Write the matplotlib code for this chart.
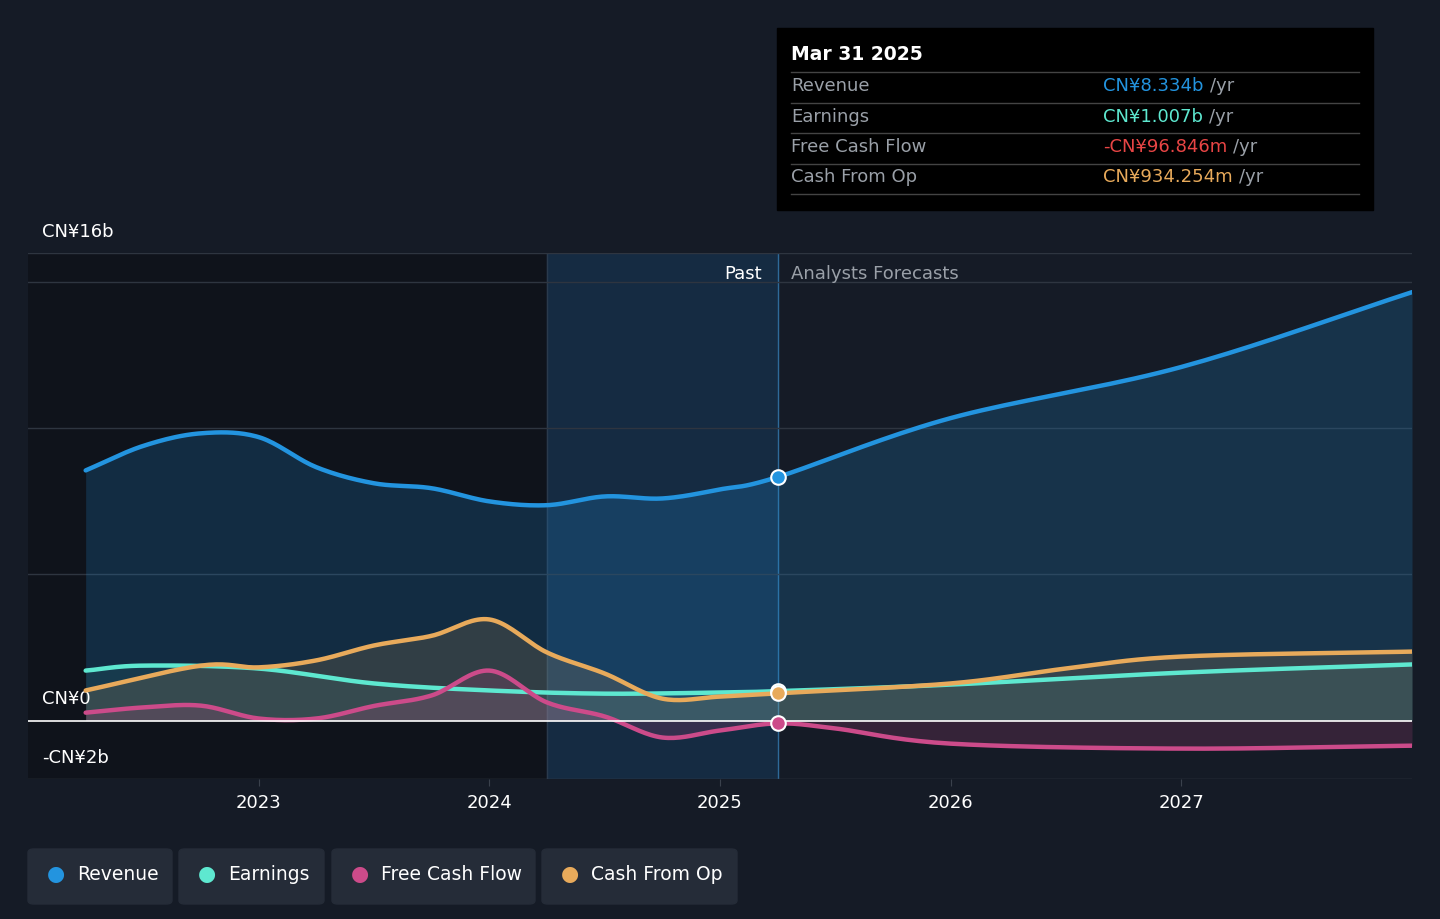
import numpy as np
import matplotlib.pyplot as plt
from matplotlib.patches import FancyBboxPatch, Rectangle

# values in CN¥ billions
rev_x = [2022.25, 2022.5, 2022.75, 2023.0, 2023.25, 2023.5, 2023.75, 2024.0, 2024.25, 2024.5, 2024.75, 2025.0, 2025.25, 2026.0, 2027.0, 2028.0]
rev_y = [8.56, 9.4, 9.83, 9.7, 8.67, 8.12, 7.95, 7.5, 7.37, 7.67, 7.6, 7.91, 8.334, 10.35, 12.1, 14.66]
earn_x = [2022.25, 2022.5, 2023.0, 2023.5, 2024.0, 2024.5, 2025.0, 2025.25, 2026.0, 2027.0, 2028.0]
earn_y = [1.71, 1.88, 1.78, 1.27, 1.03, 0.92, 0.96, 1.007, 1.23, 1.64, 1.92]
fcf_x = [2022.25, 2022.5, 2022.75, 2023.0, 2023.25, 2023.5, 2023.75, 2024.0, 2024.25, 2024.5, 2024.75, 2025.0, 2025.25, 2025.5, 2026.0, 2027.0, 2028.0]
fcf_y = [0.27, 0.45, 0.51, 0.07, 0.07, 0.5, 0.86, 1.71, 0.62, 0.14, -0.58, -0.34, -0.097, -0.27, -0.79, -0.96, -0.86]
cfo_x = [2022.25, 2022.75, 2023.0, 2023.25, 2023.5, 2023.75, 2024.0, 2024.25, 2024.5, 2024.75, 2025.0, 2025.25, 2026.0, 2026.5, 2027.0, 2028.0]
cfo_y = [1.03, 1.88, 1.82, 2.06, 2.57, 2.9, 3.46, 2.33, 1.61, 0.75, 0.82, 0.934, 1.27, 1.78, 2.19, 2.36]
now = 2025.25


def smooth(x, y, n=20):
    # Catmull-Rom spline through the read points
    x = np.asarray(x, float); y = np.asarray(y, float)
    px = np.concatenate([[2 * x[0] - x[1]], x, [2 * x[-1] - x[-2]]])
    py = np.concatenate([[2 * y[0] - y[1]], y, [2 * y[-1] - y[-2]]])
    xs, ys = [], []
    t = np.linspace(0, 1, n, endpoint=False)
    for i in range(1, len(px) - 2):
        for p, out in ((px, xs), (py, ys)):
            p0, p1, p2, p3 = p[i - 1:i + 3]
            out.extend(0.5 * (2 * p1 + (-p0 + p2) * t + (2 * p0 - 5 * p1 + 4 * p2 - p3) * t ** 2
                              + (-p0 + 3 * p1 - 3 * p2 + p3) * t ** 3))
    xs.append(x[-1]); ys.append(y[-1])
    return np.array(xs), np.array(ys)


bg = '#151b26'
fig = plt.figure(figsize=(14.4, 9.19), dpi=100, facecolor=bg)
ax = fig.add_axes([28 / 1440, 1 - 779 / 919, 1384 / 1440, 526 / 919])
ax.set_facecolor(bg)
x0 = 2022.0
ax.set_xlim(x0, 2028.0)
ax.set_ylim(-2, 16)

ax.axvspan(x0, 2024.25, color='#0f131b', zorder=0)
ax.axvspan(2024.25, now, color='#16304a', alpha=0.8, zorder=0)
ax.axvline(2024.25, color='#2a3a4c', lw=1, zorder=1)
ax.axvline(now, color='#2e6a99', lw=1, zorder=1)

for g in [5, 10, 15, 16]:
    ax.axhline(g, color='#2e3540', lw=1, zorder=1)
ax.axhline(-2, color='#3a414c', lw=1, zorder=1)

series = [
    (rev_x, rev_y, '#2394df', 0.2),
    (earn_x, earn_y, '#5ee8d0', 0.08),
    (cfo_x, cfo_y, '#e8aa5b', 0.15),
    (fcf_x, fcf_y, '#cc4b8a', 0.18),
]
for x, y, c, a in series:
    sx, sy = smooth(x, y)
    ax.fill_between(sx, sy, 0, color=c, alpha=a, lw=0, zorder=2)
    ax.plot(sx, sy, color=c, lw=3.2, zorder=4, solid_capstyle='round')
    ax.scatter([now], [np.interp(now, x, y)], s=110, color=c, edgecolor='white', lw=1.5, zorder=6)

ax.axhline(0, color='white', lw=1.2, zorder=5)

for s in ax.spines.values():
    s.set_visible(False)
ax.set_yticks([])
ax.set_xticks([2023, 2024, 2025, 2026, 2027])
ax.set_xticklabels(['2023', '2024', '2025', '2026', '2027'])
ax.tick_params(axis='x', colors='white', labelsize=13, length=5, color='#3a414c', pad=6)

ax.text(42 / 1440, 1 - 232 / 919, 'CN¥16b', transform=fig.transFigure, color='white', fontsize=13, va='center')
ax.text(42 / 1440, 1 - 699 / 919, 'CN¥0', transform=fig.transFigure, color='white', fontsize=13, va='center')
ax.text(42 / 1440, 1 - 758 / 919, '-CN¥2b', transform=fig.transFigure, color='white', fontsize=13, va='center')
ax.text(762 / 1440, 1 - 274 / 919, 'Past', transform=fig.transFigure, color='white', fontsize=13, va='center', ha='right')
ax.text(791 / 1440, 1 - 274 / 919, 'Analysts Forecasts', transform=fig.transFigure, color='#9aa0a8', fontsize=13, va='center')

# tooltip
fig.patches.append(Rectangle((777 / 1440, 1 - 210 / 919), 596 / 1440, 182 / 919,
                             transform=fig.transFigure, color='black', zorder=10))
fig.text(791 / 1440, 1 - 55 / 919, 'Mar 31 2025', color='white', fontsize=13.5, va='center', zorder=11, fontweight='semibold')
rows = [('Revenue', 'CN¥8.334b', '#2394df'), ('Earnings', 'CN¥1.007b', '#5ee8d0'),
        ('Free Cash Flow', '-CN¥96.846m', '#e84545'), ('Cash From Op', 'CN¥934.254m', '#e8aa5b')]
renderer = fig.canvas.get_renderer()
for i, (lab, val, c) in enumerate(rows):
    yy = 86 + 30.5 * i
    fig.lines.append(plt.Line2D([791 / 1440, 1359 / 1440], [1 - (yy - 14) / 919] * 2,
                                transform=fig.transFigure, color='#444', lw=1, zorder=11))
    fig.text(791 / 1440, 1 - yy / 919, lab, color='#9aa0a8', fontsize=13, va='center', zorder=11)
    t = fig.text(1103 / 1440, 1 - yy / 919, val, color=c, fontsize=13, va='center', zorder=11)
    w = t.get_window_extent(renderer).width
    fig.text((1103 + w + 6) / 1440, 1 - yy / 919, '/yr', color='#9aa0a8', fontsize=13, va='center', zorder=11)
fig.lines.append(plt.Line2D([791 / 1440, 1359 / 1440], [1 - 194 / 919] * 2,
                            transform=fig.transFigure, color='#444', lw=1, zorder=11))

# legend buttons
legend = [('Revenue', '#2394df', 28, 144), ('Earnings', '#5ee8d0', 179, 145),
          ('Free Cash Flow', '#cc4b8a', 332, 203), ('Cash From Op', '#e8aa5b', 542, 195)]
for lab, c, lx, w in legend:
    fig.patches.append(FancyBboxPatch((lx / 1440, 1 - 904 / 919), w / 1440, 55 / 919,
                                      boxstyle='round,pad=0,rounding_size=0.004',
                                      transform=fig.transFigure, color='#252c38'))
    fig.text((lx + 28) / 1440, 1 - 874 / 919, '●', color=c, fontsize=15, va='center', ha='center')
    fig.text((lx + 49) / 1440, 1 - 874 / 919, lab, color='white', fontsize=13.5, va='center')

fig.savefig('out.png', dpi=100, facecolor=bg)
